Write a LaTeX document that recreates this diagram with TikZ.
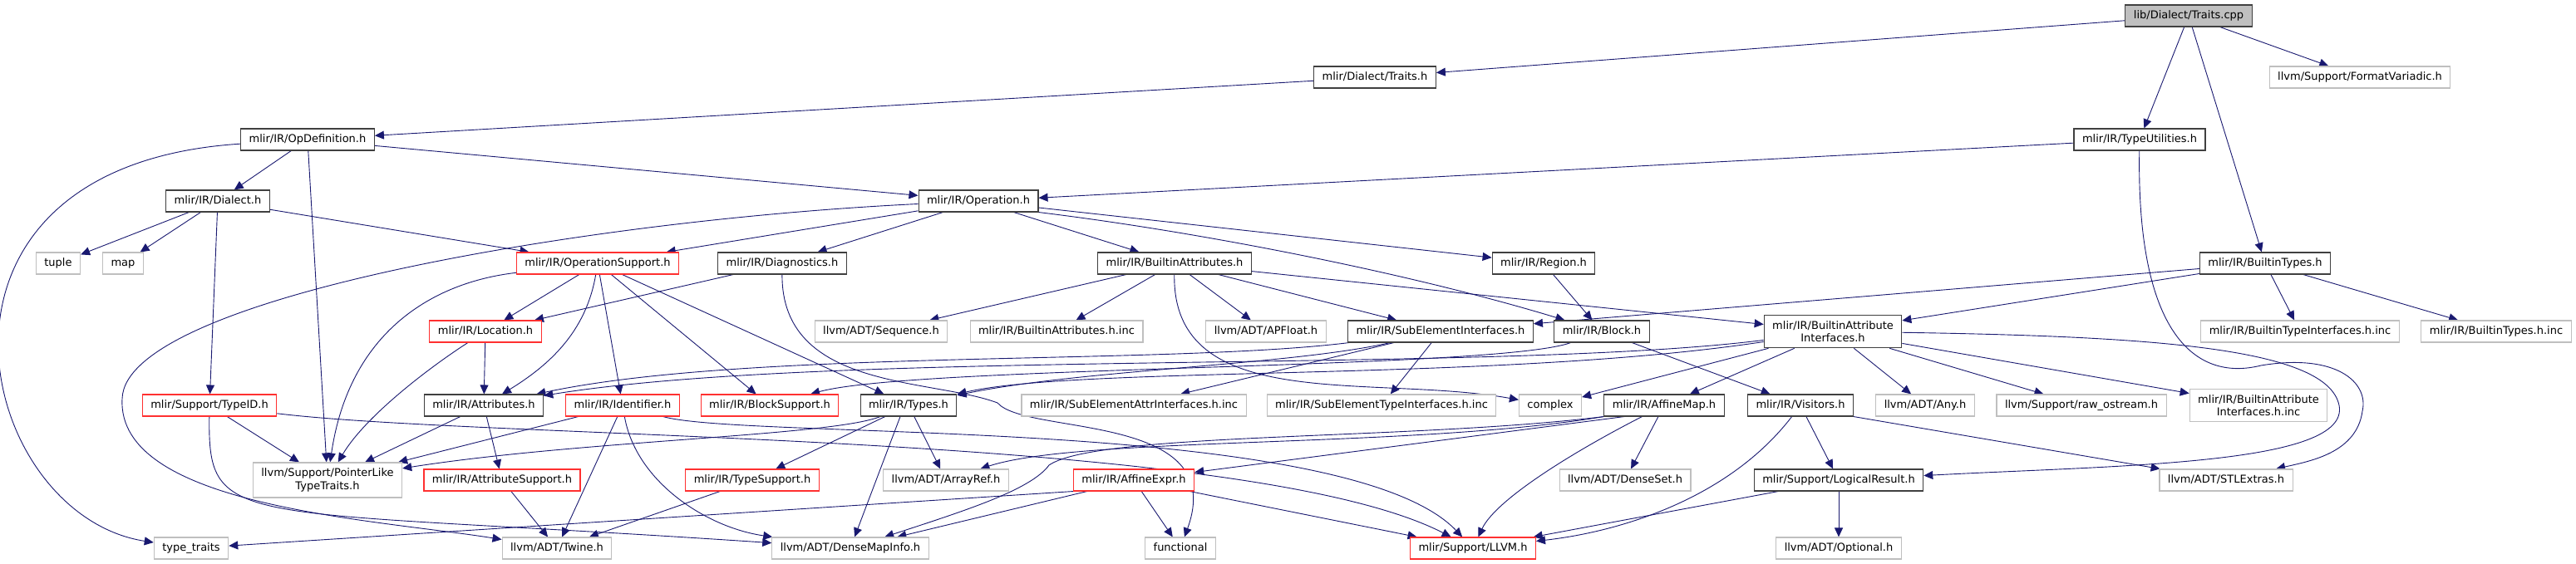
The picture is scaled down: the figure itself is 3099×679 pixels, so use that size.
\documentclass[tikz,border=0pt]{standalone}
\usepackage{fontspec}
\setmainfont{DejaVu Sans}
\usetikzlibrary{arrows.meta,backgrounds}
\definecolor{edgeblue}{HTML}{191970}
\definecolor{extgray}{HTML}{BFBFBF}
\definecolor{cutred}{HTML}{FF3030}

\begin{document}
\begin{tikzpicture}[x=1pt,y=-1pt,
  file/.style={draw=black!75,fill=white,line width=1.1pt,inner xsep=10pt,inner ysep=0pt,
    minimum height=26pt,font=\fontsize{13}{15.5}\selectfont,text height=10pt,text depth=3pt},
  cut/.style={file,draw=cutred},
  ext/.style={file,draw=extgray},
  root/.style={file,fill=extgray},
  twolines/.style={align=center,text height={},text depth={},inner ysep=7pt},
  dep/.style={draw=edgeblue,line width=0.9pt,-{Triangle[length=11pt,width=10pt]}}]
  \useasboundingbox (0,0) rectangle (3099,679);

  \node[root] (traitscpp) at (2633,19) {lib/Dialect/Traits.cpp};
  \node[file] (traitsh) at (1654,93) {mlir/Dialect/Traits.h};
  \node[ext] (formatv) at (2839,93) {llvm/Support/FormatVariadic.h};
  \node[file] (opdef) at (370,168) {mlir/IR/OpDefinition.h};
  \node[file] (typeutil) at (2574,168) {mlir/IR/TypeUtilities.h};
  \node[file] (dialect) at (262,242) {mlir/IR/Dialect.h};
  \node[file] (operation) at (1177,242) {mlir/IR/Operation.h};
  \node[ext] (tuple) at (70,317) {tuple};
  \node[ext] (map) at (148,317) {map};
  \node[cut] (opsupport) at (719,317) {mlir/IR/OperationSupport.h};
  \node[file] (diagnostics) at (941,317) {mlir/IR/Diagnostics.h};
  \node[file] (builtinattrs) at (1413,317) {mlir/IR/BuiltinAttributes.h};
  \node[file] (region) at (1857,317) {mlir/IR/Region.h};
  \node[file] (builtintypes) at (2725,317) {mlir/IR/BuiltinTypes.h};
  \node[cut] (location) at (584,399) {mlir/IR/Location.h};
  \node[ext] (sequence) at (1060,399) {llvm/ADT/Sequence.h};
  \node[ext] (battrsinc) at (1271,399) {mlir/IR/BuiltinAttributes.h.inc};
  \node[ext] (apfloat) at (1523,399) {llvm/ADT/APFloat.h};
  \node[file] (subelem) at (1733,399) {mlir/IR/SubElementInterfaces.h};
  \node[file] (block) at (1927,399) {mlir/IR/Block.h};
  \node[file,twolines] (baiface) at (2205,399) {mlir/IR/BuiltinAttribute\\Interfaces.h};
  \node[ext] (btypeifinc) at (2767,399) {mlir/IR/BuiltinTypeInterfaces.h.inc};
  \node[ext] (btypesinc) at (3003,399) {mlir/IR/BuiltinTypes.h.inc};
  \node[cut] (typeid) at (252,488) {mlir/Support/TypeID.h};
  \node[file] (attributes) at (582,488) {mlir/IR/Attributes.h};
  \node[cut] (identifier) at (749,488) {mlir/IR/Identifier.h};
  \node[cut] (blocksupport) at (926,488) {mlir/IR/BlockSupport.h};
  \node[file] (types) at (1093,488) {mlir/IR/Types.h};
  \node[ext] (subattrinc) at (1364,488) {mlir/IR/SubElementAttrInterfaces.h.inc};
  \node[ext] (subtypeinc) at (1662,488) {mlir/IR/SubElementTypeInterfaces.h.inc};
  \node[ext] (complex) at (1865,488) {complex};
  \node[file] (affinemap) at (2002,488) {mlir/IR/AffineMap.h};
  \node[file] (visitors) at (2166,488) {mlir/IR/Visitors.h};
  \node[ext] (anyh) at (2316,488) {llvm/ADT/Any.h};
  \node[ext] (rawos) at (2504,488) {llvm/Support/raw\_ostream.h};
  \node[ext,twolines] (baifaceinc) at (2717,488) {mlir/IR/BuiltinAttribute\\Interfaces.h.inc};
  \node[ext,twolines] (pointerlike) at (394,578) {llvm/Support/PointerLike\\TypeTraits.h};
  \node[cut] (attrsupport) at (604,578) {mlir/IR/AttributeSupport.h};
  \node[cut] (typesupport) at (905,578) {mlir/IR/TypeSupport.h};
  \node[ext] (arrayref) at (1138,578) {llvm/ADT/ArrayRef.h};
  \node[cut] (affineexpr) at (1364,578) {mlir/IR/AffineExpr.h};
  \node[ext] (denseset) at (1955,578) {llvm/ADT/DenseSet.h};
  \node[file] (logicalres) at (2212,578) {mlir/Support/LogicalResult.h};
  \node[ext] (stlextras) at (2678,578) {llvm/ADT/STLExtras.h};
  \node[ext] (typetraits) at (230,660) {type\_traits};
  \node[ext] (twine) at (670,660) {llvm/ADT/Twine.h};
  \node[ext] (densemap) at (1023,660) {llvm/ADT/DenseMapInfo.h};
  \node[ext] (functional) at (1420,660) {functional};
  \node[cut] (llvmh) at (1772,660) {mlir/Support/LLVM.h};
  \node[ext] (optional) at (2212,660) {llvm/ADT/Optional.h};

  \begin{pgfonlayer}{background}
  \draw[dep] (traitscpp) -- (traitsh);
  \draw[dep] (traitscpp) -- (typeutil);
  \draw[dep] (traitscpp) -- (builtintypes);
  \draw[dep] (traitscpp) -- (formatv);
  \draw[dep] (traitsh) -- (opdef);
  \draw[dep] (opdef) -- (dialect);
  \draw[dep] (opdef) -- (operation);
  \draw[dep] (opdef) .. controls (-130,200) and (-30,620) .. (typetraits);
  \draw[dep] (opdef) -- (pointerlike);
  \draw[dep] (typeutil) -- (operation);
  \draw[dep] (typeutil) .. controls (2570,400) and (2640,460) .. (2720,440)
    .. controls (2810,425) and (2850,460) .. (2842,495)
    .. controls (2835,545) and (2780,555) .. (stlextras);
  \draw[dep] (dialect) -- (tuple);
  \draw[dep] (dialect) -- (map);
  \draw[dep] (dialect) -- (opsupport);
  \draw[dep] (dialect) -- (typeid);
  \draw[dep] (operation) -- (opsupport);
  \draw[dep] (operation) -- (diagnostics);
  \draw[dep] (operation) -- (builtinattrs);
  \draw[dep] (operation) -- (region);
  \draw[dep] (operation.south east) .. controls (1450,280) and (1700,330) .. (block);
  \draw[dep] (operation) .. controls (700,265) and (150,360) .. (147,480)
    .. controls (140,610) and (450,625) .. (twine);
  \draw[dep] (builtintypes) -- (subelem);
  \draw[dep] (builtintypes) -- (baiface);
  \draw[dep] (builtintypes) -- (btypeifinc);
  \draw[dep] (builtintypes) -- (btypesinc);
  \draw[dep] (opsupport) -- (location);
  \draw[dep] (opsupport) .. controls (705,400) and (660,440) .. (attributes);
  \draw[dep] (opsupport) -- (identifier);
  \draw[dep] (opsupport) -- (blocksupport);
  \draw[dep] (opsupport) -- (types);
  \draw[dep] (opsupport) .. controls (520,340) and (420,400) .. (pointerlike);
  \draw[dep] (diagnostics) -- (location);
  \draw[dep] (diagnostics) .. controls (940,470) and (1120,455) .. (1200,485)
    .. controls (1235,525) and (1480,495) .. (functional);
  \draw[dep] (builtinattrs) -- (sequence);
  \draw[dep] (builtinattrs) -- (battrsinc);
  \draw[dep] (builtinattrs) -- (apfloat);
  \draw[dep] (builtinattrs) -- (subelem);
  \draw[dep] (builtinattrs) -- (baiface);
  \draw[dep] (builtinattrs) .. controls (1410,500) and (1650,450) .. (complex);
  \draw[dep] (region) -- (block);
  \draw[dep] (location) -- (attributes);
  \draw[dep] (location) .. controls (520,440) and (440,500) .. (pointerlike);
  \draw[dep] (subelem) .. controls (1400,440) and (900,420) .. (attributes);
  \draw[dep] (subelem) .. controls (1550,440) and (1300,445) .. (types);
  \draw[dep] (subelem) -- (subattrinc);
  \draw[dep] (subelem) -- (subtypeinc);
  \draw[dep] (block) .. controls (1800,445) and (1100,440) .. (blocksupport);
  \draw[dep] (block) -- (visitors);
  \draw[dep] (baiface) .. controls (1800,450) and (1000,420) .. (attributes);
  \draw[dep] (baiface) .. controls (1800,460) and (1300,440) .. (types);
  \draw[dep] (baiface) -- (complex);
  \draw[dep] (baiface) -- (affinemap);
  \draw[dep] (baiface) -- (anyh);
  \draw[dep] (baiface) -- (rawos);
  \draw[dep] (baiface) -- (baifaceinc);
  \draw[dep] (baiface) .. controls (2600,405) and (2800,420) .. (2814,488)
    .. controls (2828,560) and (2550,560) .. (logicalres);
  \draw[dep] (typeid) -- (pointerlike);
  \draw[dep] (typeid) .. controls (250,640) and (280,610) .. (densemap);
  \draw[dep] (typeid) .. controls (600,530) and (1500,520) .. (llvmh);
  \draw[dep] (attributes) -- (pointerlike);
  \draw[dep] (attributes) -- (attrsupport);
  \draw[dep] (identifier) -- (pointerlike);
  \draw[dep] (identifier) -- (twine);
  \draw[dep] (identifier) .. controls (765,580) and (850,635) .. (densemap);
  \draw[dep] (identifier) .. controls (900,530) and (1620,500) .. (llvmh);
  \draw[dep] (types) .. controls (1000,525) and (700,530) .. (pointerlike);
  \draw[dep] (types) -- (typesupport);
  \draw[dep] (types) -- (arrayref);
  \draw[dep] ([xshift=-10pt]types.south) -- (densemap);
  \draw[dep] ([xshift=-48pt]affinemap.south) -- (affineexpr);
  \draw[dep] (affinemap.south west) .. controls (1700,540) and (1300,525) .. (arrayref);
  \draw[dep] (affinemap.south west) .. controls (1700,530) and (1320,520) .. (1262,560)
    .. controls (1240,590) and (1160,615) .. (densemap);
  \draw[dep] (affinemap) -- (denseset);
  \draw[dep] (affinemap) .. controls (1900,540) and (1800,600) .. (llvmh);
  \draw[dep] (visitors) .. controls (2080,600) and (1950,640) .. (llvmh);
  \draw[dep] (visitors) -- (logicalres);
  \draw[dep] (visitors.south east) -- (stlextras);
  \draw[dep] (attrsupport) -- (twine);
  \draw[dep] (typesupport) -- (twine);
  \draw[dep] (affineexpr.south west) -- (typetraits);
  \draw[dep] (affineexpr) -- (densemap);
  \draw[dep] (affineexpr) -- (functional);
  \draw[dep] (affineexpr) -- (llvmh);
  \draw[dep] (logicalres) -- (llvmh);
  \draw[dep] (logicalres) -- (optional);
  \end{pgfonlayer}
\end{tikzpicture}
\end{document}
